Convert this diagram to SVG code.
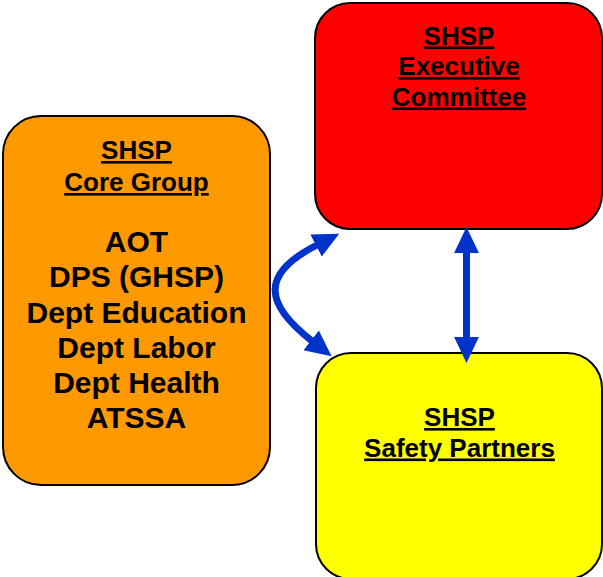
<svg xmlns="http://www.w3.org/2000/svg" width="603" height="577" viewBox="0 0 603 577">
  <style>
    .box { stroke: #000; stroke-width: 2; }
    .title { font-family: "Liberation Sans", Arial, sans-serif; font-weight: bold; font-size: 26px; text-anchor: middle; text-decoration: underline; fill: #000; }
    .list { font-family: "Liberation Sans", Arial, sans-serif; font-weight: bold; font-size: 30px; text-anchor: middle; fill: #000; }
    .link { fill: none; stroke: #0033CC; stroke-width: 7; }
  </style>
  <defs>
    <marker id="head" markerUnits="userSpaceOnUse" markerWidth="26" markerHeight="26" viewBox="0 0 24 23" refX="1" refY="11.5" orient="auto-start-reverse">
      <polygon points="0,0 24,11.5 0,23" fill="#0033CC"/>
    </marker>
  </defs>

  <rect width="603" height="577" fill="#fff"/>

  <g id="core-group">
    <rect class="box" x="3" y="116" width="267" height="369" rx="38" ry="38" fill="#FF9900"/>
    <text class="title" x="136.5" y="159">SHSP</text>
    <text class="title" x="136.5" y="191">Core Group</text>
    <text class="list" x="136.5" y="252">AOT</text>
    <text class="list" x="136.5" y="287">DPS (GHSP)</text>
    <text class="list" x="136.5" y="322.5">Dept Education</text>
    <text class="list" x="136.5" y="357.5">Dept Labor</text>
    <text class="list" x="136.5" y="393">Dept Health</text>
    <text class="list" x="136.5" y="428">ATSSA</text>
  </g>

  <g id="executive-committee">
    <rect class="box" x="315" y="3" width="287" height="226" rx="35" ry="35" fill="#FF0000"/>
    <text class="title" x="459" y="44.5">SHSP</text>
    <text class="title" x="459" y="75">Executive</text>
    <text class="title" x="459" y="105.5">Committee</text>
  </g>

  <g id="safety-partners">
    <rect class="box" x="316" y="353" width="286" height="226" rx="35" ry="35" fill="#FFFF00"/>
    <text class="title" x="459.5" y="426">SHSP</text>
    <text class="title" x="459.5" y="456.5">Safety Partners</text>
  </g>

  <g id="connectors">
    <path class="link" d="M317,245 C258,275 266,305 312,341" marker-start="url(#head)" marker-end="url(#head)"/>
    <path class="link" d="M466.5,252 L466.5,338" marker-start="url(#head)" marker-end="url(#head)"/>
  </g>
</svg>
